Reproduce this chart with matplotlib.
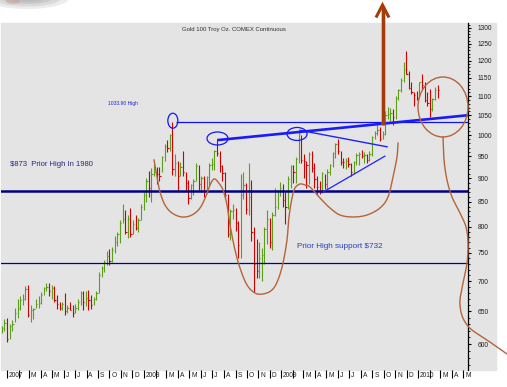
import numpy as np
import pandas as pd
import matplotlib
matplotlib.use("Agg")
import matplotlib.pyplot as plt
import matplotlib.dates as mdates
import matplotlib.transforms as mtransforms
from matplotlib.patches import Ellipse, Rectangle
from matplotlib.lines import Line2D
from matplotlib.ticker import NullFormatter

# weekly HLC bars, week starting Monday
FIRST_WEEK = "2006-12-18"

highs_2007 = [628, 638, 639, 630, 637, 655, 670, 675, 678, 692,
              694, 660, 656, 670, 675, 682, 690, 697, 697, 694,
              692, 677, 665, 665, 680, 660, 666, 660, 662, 670,
              684, 684, 683, 685, 677, 674, 684, 716, 727, 737,
              753, 757, 761, 781, 789, 812, 846, 832, 822, 836,
              812, 822, 817, 845]
lows_2007 = [616, 620, 603, 607, 619, 634, 640, 652, 660, 668,
             642, 634, 638, 656, 656, 662, 677, 683, 675, 670,
             665, 654, 652, 652, 645, 647, 652, 642, 648, 652,
             660, 653, 658, 652, 654, 660, 668, 680, 708, 715,
             728, 728, 733, 749, 763, 769, 806, 785, 777, 780,
             785, 793, 789, 812]
closes_2007 = [624, 632, 607, 627, 631, 648, 655, 668, 670, 686,
               645, 652, 654, 662, 664, 677, 688, 690, 683, 689,
               668, 662, 656, 662, 650, 655, 652, 648, 655, 666,
               680, 665, 672, 668, 660, 670, 680, 710, 722, 733,
               745, 735, 755, 770, 785, 806, 815, 789, 815, 785,
               805, 797, 812, 840]

highs_2008 = [870, 900, 916, 922, 933, 925, 926, 950, 978, 989,
              1003, 1034, 956, 940, 937, 963, 915, 897, 887, 898,
              935, 930, 905, 905, 905, 935, 946, 965, 988, 962,
              930, 915, 866, 835, 845, 838, 810, 910, 915, 890,
              935, 896, 800, 776, 770, 760, 800, 832, 816, 828,
              880, 875]
lows_2008 = [832, 850, 860, 850, 905, 888, 895, 915, 940, 960,
             963, 907, 905, 870, 905, 905, 875, 845, 855, 864,
             895, 875, 870, 860, 868, 885, 918, 918, 950, 915,
             895, 858, 780, 775, 815, 791, 740, 740, 855, 825,
             822, 773, 681, 705, 705, 700, 730, 767, 760, 756,
             820, 835]
closes_2008 = [865, 895, 880, 910, 915, 910, 905, 947, 974, 970,
               1000, 920, 935, 905, 925, 915, 890, 857, 885, 895,
               928, 887, 900, 870, 903, 929, 932, 962, 958, 928,
               912, 865, 785, 830, 833, 806, 765, 865, 885, 835,
               860, 790, 730, 718, 740, 746, 795, 815, 770, 822,
               840, 872]

highs_2009 = [892, 887, 870, 905, 930, 930, 948, 1007, 1000, 955,
              940, 960, 962, 935, 905, 895, 915, 910, 920, 933,
              960, 980, 990, 963, 945, 945, 948, 935, 940, 957,
              960, 965, 960, 955, 962, 998, 1011, 1025, 1020, 1010,
              1062, 1072, 1070, 1065, 1100, 1120, 1150, 1195, 1227, 1170,
              1140, 1110, 1114]
lows_2009 = [862, 840, 805, 835, 880, 890, 890, 935, 935, 900,
             880, 888, 915, 880, 865, 866, 868, 876, 877, 908,
             925, 945, 955, 930, 922, 920, 926, 905, 910, 930,
             930, 945, 935, 935, 940, 950, 990, 1000, 985, 990,
             1000, 1040, 1035, 1025, 1040, 1090, 1110, 1140, 1160, 1120,
             1105, 1075, 1090]
closes_2009 = [878, 854, 839, 898, 928, 914, 943, 1002, 942, 938,
               930, 955, 924, 898, 882, 870, 911, 887, 914, 930,
               958, 979, 962, 937, 936, 940, 932, 913, 937, 952,
               954, 950, 953, 942, 955, 995, 1006, 1012, 990, 1003,
               1050, 1052, 1057, 1046, 1095, 1118, 1145, 1175, 1162, 1122,
               1111, 1104, 1096]

highs_2010 = [1140, 1162, 1140, 1110, 1120, 1095, 1125, 1130]
lows_2010 = [1095, 1120, 1085, 1075, 1045, 1060, 1090, 1095]
closes_2010 = [1138, 1130, 1090, 1081, 1065, 1093, 1118, 1117]

y_ticks = [600, 650, 700, 750, 800, 850, 900, 950, 1000,
           1050, 1100, 1150, 1200, 1250, 1300]
month_letters = ["J", "F", "M", "A", "M", "J", "J", "A", "S", "O", "N", "D"]

PRIOR_HIGH_1980 = 873
PRIOR_SUPPORT = 732
HIGH_2008 = 1033.9

W, H = 507, 387
AX_L, AX_R, AX_T, AX_B = 1, 468, 23, 370
AX_W, AX_H = AX_R - AX_L, AX_B - AX_T
FONT = "Liberation Sans"


def px(x, y):
    # pixel position of the picture -> axes fraction
    return (x - AX_L) / AX_W, (AX_B - y) / AX_H


def smooth(points, n=10):
    pts = np.array(points, float)
    pts = np.vstack([pts[0], pts, pts[-1]])
    out = []
    for i in range(1, len(pts) - 2):
        p0, p1, p2, p3 = pts[i - 1], pts[i], pts[i + 1], pts[i + 2]
        for t in np.linspace(0, 1, n, endpoint=False):
            out.append(0.5 * (2 * p1 + (-p0 + p2) * t
                              + (2 * p0 - 5 * p1 + 4 * p2 - p3) * t * t
                              + (-p0 + 3 * p1 - 3 * p2 + p3) * t ** 3))
    out.append(pts[-2])
    return np.array(out)


def dnum(s):
    return mdates.date2num(pd.Timestamp(s))


highs = highs_2007 + highs_2008 + highs_2009 + highs_2010
lows = lows_2007 + lows_2008 + lows_2009 + lows_2010
closes = closes_2007 + closes_2008 + closes_2009 + closes_2010
weeks = mdates.date2num(pd.date_range(FIRST_WEEK, periods=len(closes), freq="7D"))
up_col, dn_col = "#5a9e1a", "#d00000"
cols = [up_col] + [up_col if closes[i] >= closes[i - 1] else dn_col
                   for i in range(1, len(closes))]

fig = plt.figure(figsize=(W / 100, H / 100), dpi=100)
fig.patches.append(Rectangle((AX_L / W, (H - AX_B) / H), (496 - AX_L) / W, AX_H / H,
                             transform=fig.transFigure, color="#e4e4e4", zorder=-5))
# blurred shadow of a clipped picture at top left
for w_, h_, a_ in [(84, 22, 0.18), (68, 17, 0.22), (52, 12, 0.25), (36, 8, 0.25)]:
    fig.patches.append(Ellipse((27 / W, 1 + 2 / H), w_ / W, h_ / H, transform=fig.transFigure,
                               color="#9a9a9a", alpha=a_, lw=0, zorder=-5))
fig.patches.append(Ellipse((13 / W, 1 - 1 / H), 14 / W, 6 / H, transform=fig.transFigure,
                           color="#c09080", alpha=0.35, lw=0, zorder=-5))

ax = fig.add_axes([AX_L / W, (H - AX_B) / H, AX_W / W, AX_H / H])
ax.set_zorder(1)
ax.patch.set_alpha(0)
ax.set_yscale("log")
x0 = dnum("2006-12-16")
x1 = dnum("2010-05-13 16:00")
ax.set_xlim(x0, x1)
ax.set_ylim(563.4, 1315.4)

# bars
ax.vlines(weeks, lows, highs, colors=cols, lw=0.8, zorder=3)
ax.hlines(closes, weeks, weeks + 3.5, colors=cols, lw=0.8, zorder=3)

# support / resistance lines
ax.axhline(PRIOR_HIGH_1980, color="#000080", lw=1.8, zorder=4)
ax.axhline(PRIOR_SUPPORT, color="#0000a0", lw=0.9, zorder=4)
ax.hlines(HIGH_2008, dnum("2008-03-27"), x1, color="#1010f0", lw=0.9, zorder=4)
ax.plot([dnum("2008-07-14"), x1], [988, 1050], color="#1a1aff", lw=1.9,
        solid_capstyle="butt", zorder=5)
ax.plot([dnum("2009-02-20"), dnum("2009-10-10")], [1012, 972], color="#2020ff", lw=1.0, zorder=5)
ax.plot([dnum("2009-04-22"), dnum("2009-10-04")], [870, 950], color="#2020ff", lw=0.9, zorder=5)

to_axes = ax.transData + ax.transAxes.inverted()
for day, price, w_, h_ in [("2008-03-18", 1036, 10, 15),
                           ("2008-07-15", 992, 21, 13),
                           ("2009-02-12", 1003, 20, 13)]:
    c = to_axes.transform((dnum(day), price))
    ax.add_patch(Ellipse(c, w_ / AX_W, h_ / AX_H, transform=ax.transAxes,
                         fill=False, ec="#1515ff", lw=0.9, zorder=6))

# hand drawn brown pattern
brown = "#b4643a"
cup = [(154, 160), (157, 177), (160, 192), (165, 205), (172, 213), (182, 217), (192, 215),
       (200, 208), (206, 196), (210, 185), (214, 179), (218, 182), (223, 190), (227, 205),
       (230, 225), (235, 250), (240, 268), (247, 285), (255, 293), (263, 294), (272, 290),
       (278, 280), (283, 263), (287, 240), (289, 217), (292, 198), (295, 188), (300, 184),
       (305, 185), (310, 187), (320, 198), (330, 208), (340, 215), (353, 217), (367, 215),
       (380, 208), (388, 197), (393, 177), (397, 157), (398, 143)]
tail = [(443, 137), (444, 160), (447, 180), (452, 197), (460, 213), (466, 227), (468, 243),
        (467, 263), (463, 283), (460, 300), (461, 312), (465, 322), (472, 330), (487, 340),
        (507, 354)]
for pts in (cup, tail):
    s = smooth(pts)
    fx, fy = px(s[:, 0], s[:, 1])
    ax.plot(fx, fy, color=brown, lw=1.0, transform=ax.transAxes, clip_on=False, zorder=6)
ax.add_patch(Ellipse(px(443, 107), 50 / AX_W, 60 / AX_H, transform=ax.transAxes,
                     fill=False, ec=brown, lw=1.0, clip_on=False, zorder=6))

# big arrow
arrow_col = "#a33c0a"
ax_x = 382.5 / W
fig.add_artist(Line2D([ax_x, ax_x], [1 - 125 / H, 1 - 8 / H], transform=fig.transFigure,
                      color="#c98a60", lw=3.4, alpha=0.35, solid_capstyle="butt", zorder=7))
fig.add_artist(Line2D([ax_x, ax_x], [1 - 125 / H, 1 - 6 / H], transform=fig.transFigure,
                      color=arrow_col, lw=2.4, solid_capstyle="butt", zorder=8))
fig.add_artist(Line2D([376 / W, ax_x, 389 / W], [1 - 17.5 / H, 1 - 5 / H, 1 - 17.5 / H],
                      transform=fig.transFigure, color=arrow_col, lw=2.2,
                      solid_joinstyle="miter", solid_capstyle="butt", zorder=8))

# texts
ax.text(*px(234, 30), "Gold 100 Troy Oz. COMEX Continuous", transform=ax.transAxes,
        ha="center", va="center", fontsize=4.3, color="#303030", family=FONT)
ax.text(*px(108, 104), "1033.90 High", transform=ax.transAxes, ha="left", va="center",
        fontsize=3.6, color="#2020e0", family=FONT)
ax.text(*px(10, 165), "$873  Prior High In 1980", transform=ax.transAxes, ha="left",
        va="center", fontsize=5.5, color="#1f2a80", family=FONT)
ax.text(*px(297, 246), "Prior High support $732", transform=ax.transAxes, ha="left",
        va="center", fontsize=5.9, color="#2a40c0", family=FONT)

# axes styling
for side in ("left", "top", "bottom"):
    ax.spines[side].set_visible(False)
ax.spines["right"].set_linewidth(0.9)
ax.yaxis.tick_right()
ax.set_yticks(y_ticks, labels=[str(v) for v in y_ticks])
ax.set_yticks([v for v in range(570, 1320, 10) if v % 50], minor=True)
ax.yaxis.set_minor_formatter(NullFormatter())
ax.tick_params(axis="y", which="major", direction="out", length=2.2, width=0.8, pad=5,
               labelsize=4.8, labelcolor="#202020")
ax.tick_params(axis="y", which="minor", direction="out", length=1.2, width=0.6)
for lab in ax.get_yticklabels():
    lab.set_family(FONT)

months = pd.date_range("2007-01-01", "2010-05-01", freq="MS")
ax.set_xticks(mdates.date2num(months))
ax.set_xticks([], minor=True)
ax.tick_params(axis="x", direction="out", length=5.4, width=0.8, labelbottom=False)
lab_tr = mtransforms.offset_copy(mtransforms.blended_transform_factory(ax.transData, ax.transAxes),
                                 fig=fig, x=1.8, y=0, units="dots")
for m in months:
    label = str(m.year) if m.month == 1 else ("" if m.month == 2 else month_letters[m.month - 1])
    ax.text(mdates.date2num(m), -5.5 / AX_H, label, transform=lab_tr, ha="left", va="center",
            fontsize=4.8, color="#202020", family=FONT)

fig.savefig("out.png", dpi=100)
